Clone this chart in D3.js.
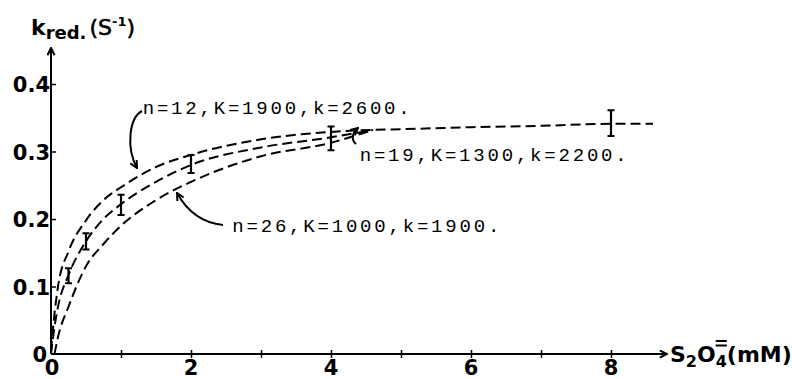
<!DOCTYPE html>
<html>
<head>
<meta charset="utf-8">
<script src="https://cdn.jsdelivr.net/npm/d3@7"></script>
<style>
  body { margin: 0; background: #fff; }
  svg { display: block; }
  .lbl { font-family: "DejaVu Sans", "Liberation Sans", Arial, sans-serif; font-weight: bold; fill: #000; }
  .ann { font-family: "Liberation Mono", "DejaVu Sans Mono", monospace; font-size: 19px; letter-spacing: 2.8px; fill: #000; }
</style>
</head>
<body>
<div id="chart"></div>
<script>
// curve samples (x in mM, y in s^-1)
const curveX = [0, 0.05, 0.1, 0.25, 0.5, 0.75, 1, 1.5, 2, 3, 4, 4.6, 5, 6, 7, 8, 8.6];
const curveN12 = [0.005, 0.06, 0.1, 0.152, 0.198, 0.228, 0.247, 0.277, 0.295, 0.318, 0.329, 0.332, 0.333, 0.336, 0.338, 0.341, 0.341];
const curveN19X = [0, 0.05, 0.1, 0.25, 0.5, 0.75, 1, 1.5, 2, 3, 4, 4.6];
const curveN19 = [0.0, 0.04, 0.07, 0.117, 0.167, 0.2, 0.222, 0.255, 0.28, 0.306, 0.321, 0.332];
const curveN26X = [0.05, 0.1, 0.25, 0.5, 0.75, 1, 1.5, 2, 3, 4, 4.6];
const curveN26 = [0.0, 0.025, 0.07, 0.13, 0.163, 0.19, 0.228, 0.255, 0.293, 0.313, 0.332];

// measured points with error bars
const ptX = [0.25, 0.5, 1, 2, 4, 8];
const ptLo = [0.105, 0.155, 0.206, 0.268, 0.302, 0.323];
const ptHi = [0.127, 0.179, 0.236, 0.295, 0.337, 0.361];

const xTicks = [1, 2, 3, 4, 5, 6, 7, 8];
const xTickLabels = ["", "2", "", "4", "", "6", "", "8"];
const yTicks = [0.1, 0.2, 0.3, 0.4];
const yTickLabels = ["0.1", "0.2", "0.3", "0.4"];

const annText = ["n=12,K=1900,k=2600.", "n=19,K=1300,k=2200.", "n=26,K=1000,k=1900."];
const annPos = [[1.31, 0.356], [4.41, 0.286], [2.59, 0.181]];

const width = 792, height = 379;
const x = d3.scaleLinear().domain([0, 8]).range([51, 611]);
const y = d3.scaleLinear().domain([0, 0.4]).range([354, 84]);

const svg = d3.select("#chart").append("svg")
  .attr("width", width)
  .attr("height", height);

svg.append("defs").append("marker")
  .attr("id", "head")
  .attr("viewBox", "0 0 10 10")
  .attr("refX", 9).attr("refY", 5)
  .attr("markerWidth", 9).attr("markerHeight", 9)
  .attr("markerUnits", "userSpaceOnUse")
  .attr("orient", "auto")
  .append("path")
  .attr("d", "M1,1 L9,5 L1,9")
  .attr("fill", "none").attr("stroke", "#000").attr("stroke-width", 2.2);

// axes lines with arrows
svg.append("line")
  .attr("x1", x(0)).attr("y1", y(0)).attr("x2", x(0)).attr("y2", 48)
  .attr("stroke", "#000").attr("stroke-width", 2).attr("marker-end", "url(#head)");
svg.append("line")
  .attr("x1", x(0)).attr("y1", y(0)).attr("x2", 667).attr("y2", y(0))
  .attr("stroke", "#000").attr("stroke-width", 2).attr("marker-end", "url(#head)");

// x ticks
const xAxis = svg.append("g")
  .attr("transform", `translate(0,${y(0)})`)
  .call(d3.axisBottom(x).tickValues(xTicks).tickSize(4).tickFormat(""));
xAxis.select(".domain").remove();
xAxis.selectAll(".tick line").attr("y1", -4).attr("stroke-width", 1.5);
svg.selectAll(".xlab")
  .data(xTicks)
  .enter().append("text")
  .attr("class", "lbl")
  .attr("x", d => x(d))
  .attr("y", 375)
  .attr("text-anchor", "middle")
  .attr("font-size", 21)
  .text((d, i) => xTickLabels[i]);
svg.append("text").attr("class", "lbl")
  .attr("x", x(0) + 1).attr("y", 375)
  .attr("text-anchor", "middle").attr("font-size", 21).text("0");

// y ticks
const yAxis = svg.append("g")
  .attr("transform", `translate(${x(0)},0)`)
  .call(d3.axisRight(y).tickValues(yTicks).tickSize(5).tickFormat(""));
yAxis.select(".domain").remove();
yAxis.selectAll(".tick line").attr("x1", -1).attr("stroke-width", 1.5);
svg.selectAll(".ylab")
  .data(yTicks)
  .enter().append("text")
  .attr("class", "lbl")
  .attr("x", 50)
  .attr("y", d => y(d) + 8)
  .attr("text-anchor", "end")
  .attr("font-size", 21)
  .text((d, i) => yTickLabels[i]);
svg.append("text").attr("class", "lbl")
  .attr("x", 47).attr("y", y(0) + 8)
  .attr("text-anchor", "end").attr("font-size", 21).text("0");

// axis titles
const yt = svg.append("text").attr("class", "lbl").attr("x", 31).attr("y", 35).attr("font-size", 22);
yt.append("tspan").text("k");
yt.append("tspan").attr("dy", 4).attr("font-size", 18).text("red.");
yt.append("tspan").attr("dy", -4).attr("dx", 3).attr("font-weight", "normal").attr("stroke", "#000").attr("stroke-width", 0.6).text("(S");
yt.append("tspan").attr("dy", -9).attr("font-size", 13).text("-1");
yt.append("tspan").attr("dy", 9).attr("font-weight", "normal").attr("stroke", "#000").attr("stroke-width", 0.6).text(")");

const xt = svg.append("text").attr("class", "lbl").attr("x", 670).attr("y", 362).attr("font-size", 22);
xt.append("tspan").text("S");
xt.append("tspan").attr("dy", 5).attr("font-size", 16).text("2");
xt.append("tspan").attr("dy", -5).text("O");
const four = xt.append("tspan").attr("dy", 5).attr("font-size", 16).text("4");
xt.append("tspan").attr("dy", -5).text("(mM)");
// double bar over the charge, above the "4"
const fb = four.node().getBBox();
svg.append("path")
  .attr("d", `M${fb.x},341 H${fb.x + fb.width} M${fb.x},345.5 H${fb.x + fb.width}`)
  .attr("stroke", "#000").attr("stroke-width", 1.8);

// dashed model curves
const line = d3.line().x(d => x(d[0])).y(d => y(d[1])).curve(d3.curveMonotoneX);
const curves = [
  d3.zip(curveX, curveN12),
  d3.zip(curveN19X, curveN19),
  d3.zip(curveN26X, curveN26)
];
svg.selectAll(".curve")
  .data(curves)
  .enter().append("path")
  .attr("class", "curve")
  .attr("d", line)
  .attr("fill", "none")
  .attr("stroke", "#000")
  .attr("stroke-width", 2)
  .attr("stroke-dasharray", "10,5");

// error bars
const bars = svg.selectAll(".bar")
  .data(ptX.map((v, i) => ({ x: v, lo: ptLo[i], hi: ptHi[i] })))
  .enter().append("g").attr("class", "bar");
bars.append("line")
  .attr("x1", d => x(d.x)).attr("x2", d => x(d.x))
  .attr("y1", d => y(d.lo)).attr("y2", d => y(d.hi))
  .attr("stroke", "#000").attr("stroke-width", 2.2);
bars.append("path")
  .attr("d", d => `M${x(d.x) - 3.5},${y(d.lo)} H${x(d.x) + 3.5} M${x(d.x) - 3.5},${y(d.hi)} H${x(d.x) + 3.5}`)
  .attr("stroke", "#000").attr("stroke-width", 2);

// annotations
svg.selectAll(".ann")
  .data(annText)
  .enter().append("text")
  .attr("class", "ann")
  .attr("x", (d, i) => x(annPos[i][0]))
  .attr("y", (d, i) => y(annPos[i][1]))
  .text(d => d);

// pointer arrows
const arrows = [
  "M142,111 C129,118 126,148 137,168",
  "M356,144 C351,140 352,133 358,128",
  "M223,225 C203,223 187,211 177,193"
];
svg.selectAll(".arrow")
  .data(arrows)
  .enter().append("path")
  .attr("d", d => d)
  .attr("fill", "none")
  .attr("stroke", "#000")
  .attr("stroke-width", 2)
  .attr("marker-end", "url(#head)");
</script>
</body>
</html>
